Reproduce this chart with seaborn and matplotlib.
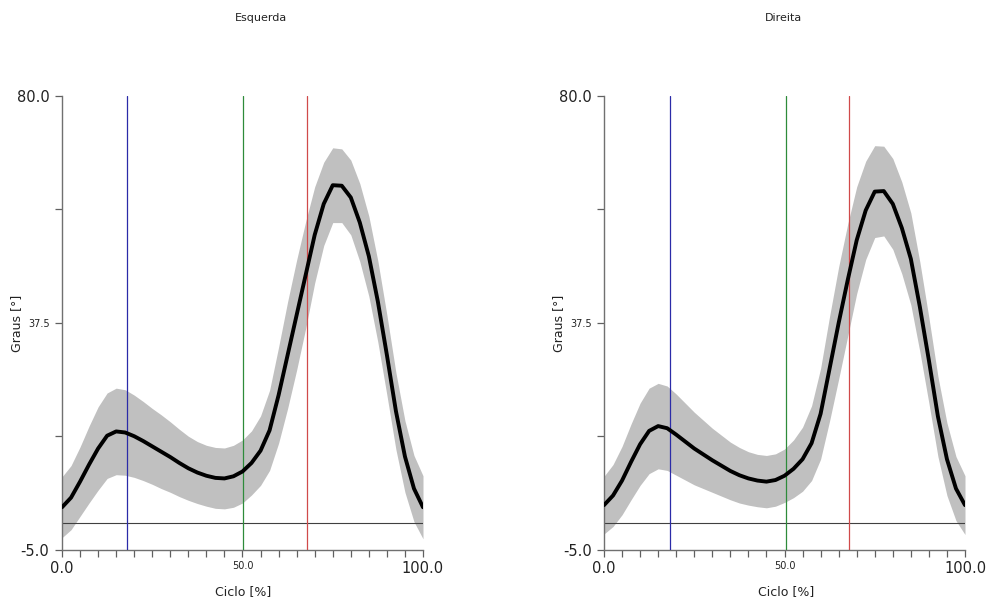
import numpy as np
import pandas as pd
import matplotlib
matplotlib.use("Agg")
import matplotlib.pyplot as plt
import seaborn as sns

# ---- data ----
pct = [0, 2.5, 5, 7.5, 10, 12.5, 15, 17.5, 20, 22.5, 25, 27.5, 30, 32.5, 35, 37.5, 40,
       42.5, 45, 47.5, 50, 52.5, 55, 57.5, 60, 62.5, 65, 67.5, 70, 72.5, 75, 77.5, 80,
       82.5, 85, 87.5, 90, 92.5, 95, 97.5, 100]

left_mean = [3.0, 4.8, 7.8, 11.0, 14.0, 16.4, 17.2, 17.0, 16.3, 15.4, 14.4, 13.4, 12.4,
             11.3, 10.3, 9.5, 8.9, 8.5, 8.4, 8.8, 9.7, 11.3, 13.6, 17.4, 24.0, 31.5, 39.0,
             46.5, 54.0, 59.8, 63.3, 63.2, 61.0, 56.3, 50.0, 41.5, 31.5, 21.0, 12.5, 6.5, 3.0]
left_sd = [5.7, 6.0, 6.5, 7.2, 7.8, 8.0, 8.1, 8.0, 7.7, 7.4, 7.1, 6.9, 6.6, 6.3, 6.0, 5.8,
           5.7, 5.7, 5.7, 5.8, 5.9, 6.0, 6.5, 7.5, 9.0, 10.0, 10.3, 10.0, 9.0, 7.8, 7.0,
           6.9, 7.0, 7.3, 7.5, 7.6, 7.5, 7.2, 6.7, 6.2, 5.9]

right_mean = [3.4, 5.2, 8.0, 11.5, 14.8, 17.3, 18.2, 17.8, 16.6, 15.3, 14.0, 12.9, 11.8,
              10.8, 9.8, 9.0, 8.4, 8.0, 7.8, 8.1, 8.9, 10.2, 12.0, 15.0, 20.5, 29.0, 37.5,
              45.5, 53.0, 58.6, 62.1, 62.2, 59.8, 55.3, 49.5, 40.5, 30.5, 20.0, 12.0, 6.5, 3.4]
right_sd = [5.4, 5.8, 6.4, 7.1, 7.7, 8.0, 8.0, 7.9, 7.6, 7.2, 6.8, 6.4, 6.0, 5.7, 5.4, 5.2,
            5.0, 4.9, 4.9, 4.9, 5.0, 5.4, 6.0, 7.0, 8.5, 9.8, 10.5, 10.5, 10.0, 9.2, 8.6,
            8.4, 8.5, 8.6, 8.6, 8.4, 8.0, 7.5, 6.8, 6.0, 5.5]

titles = ["Esquerda", "Direita"]
events_left = [18.0, 50.1, 67.9]
events_right = [18.3, 50.3, 68.0]
event_colors = ["#2b2ba8", "#2e8b3a", "#d04a4a"]

y_ticks = [-5.0, 16.25, 37.5, 58.75, 80.0]
y_ticklabels = ["-5.0", "", "37.5", "", "80.0"]
x_ticks = list(range(0, 101, 5))
x_ticklabels = ["0.0"] + [""] * 9 + ["50.0"] + [""] * 9 + ["100.0"]

# ---- figure ----
sns.set_style("ticks")
plt.rcParams["font.family"] = ["DejaVu Sans"]

fig = plt.figure(figsize=(9.89, 6.03), dpi=100)
W, H = 989, 603
axes = [fig.add_axes([62 / W, (H - 550) / H, 361 / W, 454 / H]),
        fig.add_axes([604 / W, (H - 550) / H, 361 / W, 454 / H])]

datasets = [(left_mean, left_sd, events_left), (right_mean, right_sd, events_right)]
title_x = [261, 783]
xlabel_x = [243, 786]
ylabel_x = [17, 559]

for ax, (mean, sd, events), tx, lx, yx, title in zip(axes, datasets, title_x, xlabel_x,
                                                      ylabel_x, titles):
    df = pd.DataFrame({"pct": pct, "mean": mean, "sd": sd})
    ax.fill_between(df["pct"], df["mean"] - df["sd"], df["mean"] + df["sd"],
                    color="#c0c0c0", lw=0, zorder=1)
    ax.axhline(0, color="#404040", lw=0.8, zorder=2)
    for ev, c in zip(events, event_colors):
        ax.axvline(ev, color=c, lw=0.9, zorder=3)
    sns.lineplot(data=df, x="pct", y="mean", ax=ax, color="black", lw=2.8, zorder=4,
                 solid_joinstyle="round", solid_capstyle="round")

    ax.set_xlim(0, 100)
    ax.set_ylim(-5, 80)
    for s in ["top", "right"]:
        ax.spines[s].set_visible(False)
    for s in ["left", "bottom"]:
        ax.spines[s].set_color("#707070")
        ax.spines[s].set_linewidth(1.0)

    ax.set_xticks(x_ticks)
    ax.set_xticklabels(x_ticklabels)
    ax.set_yticks(y_ticks)
    ax.set_yticklabels(y_ticklabels)
    ax.tick_params(axis="both", direction="out", length=5, width=0.9, color="#606060",
                   labelcolor="#222222", labelsize=10.5)
    ax.tick_params(axis="x", pad=3)
    ax.tick_params(axis="y", pad=4)
    for lab in ax.get_xticklabels():
        if lab.get_text() == "50.0":
            lab.set_fontsize(7)
    for lab in ax.get_yticklabels():
        if lab.get_text() == "37.5":
            lab.set_fontsize(7)

    ax.set_xlabel("")
    ax.set_ylabel("")
    fig.text(yx / W, 1 - 323 / H, "Graus [°]", ha="center", va="center", rotation=90,
             fontsize=9, color="#222222")
    fig.text(lx / W, 1 - 592 / H, "Ciclo [%]", ha="center", va="center", fontsize=9,
             color="#222222")
    fig.text(tx / W, 1 - 18 / H, title, ha="center", va="center", fontsize=8,
             color="#222222")

fig.savefig("out.png", dpi=100, facecolor="white")
